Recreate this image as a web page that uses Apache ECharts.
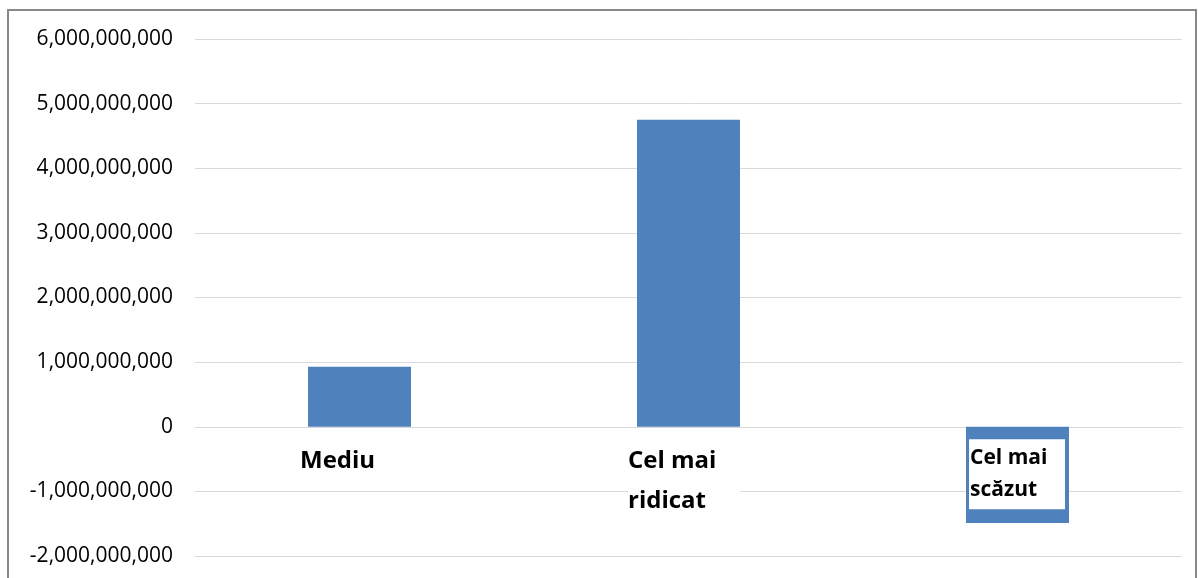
<!DOCTYPE html>
<html><head><meta charset="utf-8">
<script src="https://cdn.jsdelivr.net/npm/echarts@6/dist/echarts.min.js"></script>
<style>html,body{margin:0;padding:0;background:#fff}#c{width:1198px;height:578px}</style>
</head><body><div id="c"></div>
<script>
const categories = ['Mediu', 'Cel mai ridicat', 'Cel mai scăzut'];
const labelText = ['Mediu', 'Cel mai\nridicat', 'Cel mai\nscăzut'];
const values = [930000000, 4750000000, -1490000000];
const yMin = -2000000000, yMax = 6000000000, yStep = 1000000000;

const chart = echarts.init(document.getElementById('c'));
const FONT = '"Open Sans", sans-serif';
chart.setOption({
  animation: false,
  backgroundColor: '#fff',
  graphic: [{
    type: 'rect', shape: {x: 8, y: 10, width: 1188, height: 600},
    style: {fill: 'none', stroke: '#888', lineWidth: 2}, z: -10, silent: true
  }],
  grid: {left: 195, right: 16, top: 39, bottom: 22, containLabel: false},
  xAxis: {
    type: 'category', data: categories,
    axisLine: {show: true, onZero: true, lineStyle: {color: '#d9d9d9', width: 1}},
    axisTick: {show: false}, axisLabel: {show: false}, splitLine: {show: false}
  },
  yAxis: {
    type: 'value', min: yMin, max: yMax, interval: yStep,
    axisLine: {show: false}, axisTick: {show: false},
    splitLine: {lineStyle: {color: '#d9d9d9', width: 1}},
    axisLabel: {
      margin: 22, color: '#000', fontFamily: FONT, fontSize: 21,
      formatter: v => v.toLocaleString('en-US')
    }
  },
  series: [{
    type: 'bar', data: values, barWidth: 103,
    itemStyle: {color: '#4f81bd'}, z: 2
  }, {
    type: 'scatter', symbolSize: 1, z: 5, silent: true,
    itemStyle: {color: 'rgba(0,0,0,0)', opacity: 1},
    data: categories.map((c, i) => {
      const base = {
        value: [c, 0],
        label: {
          show: true, formatter: labelText[i], align: 'left', verticalAlign: 'top',
          fontFamily: FONT, fontWeight: 'bold', color: '#000', opacity: 1
        }
      };
      if (i === 0) Object.assign(base.label, {position: [-59, 15], fontSize: 24, lineHeight: 40, backgroundColor: '#fff'});
      if (i === 1) Object.assign(base.label, {position: [-60, 15], fontSize: 24, lineHeight: 40, width: 112, backgroundColor: '#fff'});
      if (i === 2) Object.assign(base.label, {position: [-48, 13], fontSize: 21, lineHeight: 32, width: 94, height: 64, padding: [3, 1, 3, 1], backgroundColor: '#fff'});
      return base;
    })
  }]
});
</script></body></html>
